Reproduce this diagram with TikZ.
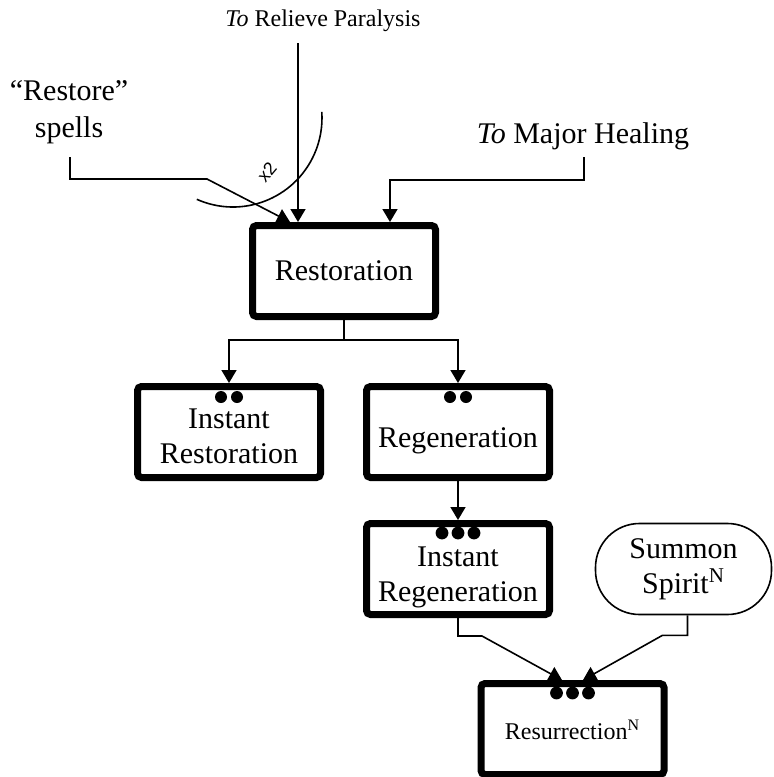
\documentclass[tikz,border=0pt]{standalone}
\usepackage{fontspec}
\setmainfont{Liberation Serif}
\setsansfont{Liberation Sans}
\usetikzlibrary{positioning,arrows.meta}
\newcommand{\toppad}[1]{\rule{0pt}{#1}}

\begin{document}
\begin{tikzpicture}[
x=0.5pt, y=0.5pt,
node distance=19.5pt,
spell/.style={
rectangle,
rounded corners=2pt,
draw=black,
line width=3.5pt,
minimum width=91.5pt,
minimum height=45.5pt,
inner sep=0pt,
align=center,
font=\fontsize{15}{17.5}\selectfont
},
source/.style={
rectangle,
rounded corners=22pt,
draw=black,
line width=0.8pt,
minimum width=88pt,
minimum height=45.5pt,
inner sep=0pt,
align=center,
font=\fontsize{15}{17.5}\selectfont
},
lbl/.style={
inner sep=0pt,
align=center,
font=\fontsize{15}{18.5}\selectfont
},
arrow/.style={
-{Triangle[length=6.5pt,width=7.5pt]},
line width=0.8pt,
draw=black
}
]
\useasboundingbox (0,0) rectangle (774,-777);

% sources at the top
\node[lbl,font=\fontsize{12}{14}\selectfont] (paral) at (323,-21) {\textit{To} Relieve Paralysis};
\node[lbl] (restore) at (69,-112) {“Restore”\\spells};
\node[lbl] (major) at (583,-136) {\textit{To} Major Healing};
\coordinate (paralx) at (298,-43);
\coordinate (restorex) at (70,-157);
\coordinate (majorx) at (584,-157);

% spells
\node[spell] (rest) at (344,-271) {Restoration};
\node[spell] (regen) at (458,-432) {\toppad{18.4pt}Regeneration};
\node[spell,left=of regen] (instrest) {\toppad{14.4pt}Instant\\Restoration};
\node[spell,below=of regen] (instregen) {\toppad{18pt}Instant\\Regeneration};
\node[source] (summon) at (683.5,-569) {Summon\\Spirit\textsuperscript{N}};
\node[spell,font=\fontsize{12}{14}\selectfont] (resur) at (572.5,-729) {\toppad{10.5pt}Resurrection\textsuperscript{N}};

% dots
\foreach \b in {instrest,regen}
  \foreach \dx in {-8,8}
    \fill ([shift={(\dx,-14)}]\b.north) circle[radius=3pt];
\foreach \b in {instregen,resur}
  \foreach \dx in {-16,0,16}
    \fill ([shift={(\dx,-13)}]\b.north) circle[radius=3.2pt];

% x2 mark
\draw[line width=0.8pt] (233,-118) ++(246:89) arc[start angle=246, end angle=364, radius=89];
\node[font=\sffamily\fontsize{9}{10}\selectfont, rotate=50] (twice) at (267,-172) {x2};

% connectors
\draw[arrow] (paralx) -- (paralx |- rest.north);
\draw[arrow] (restorex) -- ++(0,-22) -- ++(137,0) -- ([xshift=-27pt]rest.north);
\draw[arrow] (majorx) -- ++(0,-23) -| ([xshift=23pt]rest.north);
\draw[arrow] (rest.south) -- ++(0,-20) -| (instrest.north);
\draw[arrow] (rest.south) -- ++(0,-20) -| (regen.north);
\draw[arrow] (regen) -- (instregen);
\draw[arrow] (instregen.south) -- ++(0,-18) -- ++(24,0) -- ([xshift=-5.25pt]resur.north);
\draw[arrow] ([xshift=2pt]summon.south) -- ++(0,-20) -- ++(-25,0) -- ([xshift=5.25pt]resur.north);

\end{tikzpicture}
\end{document}
